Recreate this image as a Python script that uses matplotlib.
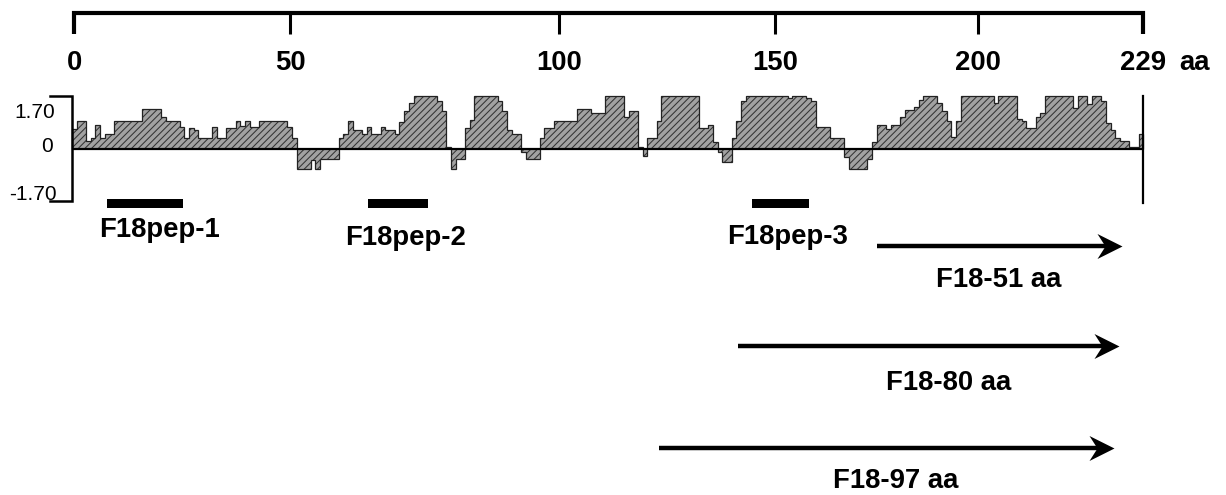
import matplotlib
matplotlib.use("Agg")
import matplotlib.pyplot as plt
from matplotlib.path import Path
import numpy as np

# ---------------- data ----------------
protein_length = 229

# hydrophilicity profile as runs: start residue of each run and its value
seg_start = [0, 1, 3, 4, 5, 6, 7, 9, 15, 19, 20, 23, 24, 25, 26, 27, 30, 31, 33, 35,
             36, 37, 38, 40, 46, 47, 48, 51, 52, 53, 57, 58, 59, 60, 62, 63, 64, 66, 67, 69,
             70, 71, 72, 73, 78, 79, 80, 81, 82, 84, 85, 86, 91, 92, 93, 94, 96, 97, 100, 101,
             103, 108, 111, 114, 118, 119, 121, 122, 123, 125, 126, 134, 136, 137, 138, 139, 141, 142, 143, 144,
             153, 154, 157, 158, 159, 162, 165, 166, 170, 171, 172, 174, 175, 177, 178, 180, 181, 182, 185, 186,
             187, 188, 189, 190, 197, 198, 202, 203, 204, 206, 207, 208, 214, 215, 217, 218, 220, 221, 222, 223,
             224, 226, 228]
seg_value = [0.63, 0.91, 0.24, 0.33, 0.77, 0.33, 0.47, 0.91, 1.28, 1.04, 0.91, 0.71, 0.33, 0.66, 0.60, 0.33, 0.71, 0.33, 0.66, 0.91,
             0.73, 0.91, 0.71, 0.91, 0.71, 0.33, -0.66, -0.38, -0.66, -0.33, 0.33, 0.49, 0.91, 0.60, 0.49, 0.71, 0.49, 0.71, 0.60, 0.49,
             0.88, 1.21, 1.48, 1.70, 1.54, 1.21, 0.05, -0.66, -0.33, 0.66, 0.93, 1.70, 1.54, 1.21, 0.60, 0.46, -0.11, -0.33, 0.33, 0.66,
             0.91, 1.28, 1.15, 1.70, 1.04, 1.21, 0.05, -0.25, 0.33, 0.91, 1.70, 0.66, 0.77, 0.22, -0.11, -0.44, 0.33, 0.91, 1.54, 1.70,
             1.65, 1.70, 1.65, 1.54, 0.71, 0.33, -0.27, -0.66, -0.33, 0.22, 0.77, 0.63, 0.77, 1.04, 1.26, 1.35, 1.57, 1.70, 1.48, 1.21,
             0.91, 0.38, 0.90, 1.70, 1.48, 1.70, 0.95, 0.91, 0.66, 1.04, 1.15, 1.70, 1.32, 1.70, 1.46, 1.70, 1.54, 0.82, 0.62, 0.33,
             0.24, 0.05, 0.49]

scale_labels = ["1.70", "0", "-1.70"]
scale_values = [1.70, 0.0, -1.70]

ruler_labels = ["0", "50", "100", "150", "200", "229"]
ruler_pos = [0.5, 46.7, 104.1, 150.3, 193.7, 229.0]

peptides = ["F18pep-1", "F18pep-2", "F18pep-3"]
pep_start = [7.4, 63.2, 145.3]
pep_end = [23.8, 76.2, 157.5]

fragments = ["F18-51 aa", "F18-80 aa", "F18-97 aa"]
frag_start = [172.0, 142.4, 125.5]
frag_end = [224.4, 223.7, 222.7]

# ---------------- layout (pixel geometry of the figure) ----------------
W, H = 1226, 495
X0 = 72.0                      # pixel x of residue 0
PPR = (1143.3 - X0) / protein_length   # pixels per residue
Y0 = 148.5                     # pixel y of hydrophilicity 0
PPU = 30.6                     # pixels per hydrophilicity unit


def xr(px):
    return (px - X0) / PPR


def yv(py):
    return (Y0 - py) / PPU


plt.rcParams["hatch.linewidth"] = 0.75
BOLD = dict(family=["Liberation Sans", "DejaVu Sans"], fontweight="bold", fontsize=19.8, color="black")
REG = dict(family=["Liberation Sans", "DejaVu Sans"], fontsize=15, color="black")

fig = plt.figure(figsize=(W / 100, H / 100), dpi=100)
ax = fig.add_axes([0, 0, 1, 1])
ax.set_xlim(xr(0), xr(W))
ax.set_ylim(yv(H), yv(0))
ax.axis("off")

# ---- top ruler ----
ry_top, ry_bot = yv(12.5), yv(34)
ax.plot([ruler_pos[0], ruler_pos[0], ruler_pos[-1], ruler_pos[-1]],
        [ry_bot, ry_top, ry_top, ry_bot], color="black", lw=3.0,
        solid_joinstyle="miter", solid_capstyle="butt")
for p in ruler_pos[1:-1]:
    ax.plot([p, p], [ry_top, ry_bot], color="black", lw=2.2, solid_capstyle="butt")
for p, lab in zip(ruler_pos, ruler_labels):
    ax.text(p, yv(70), lab, ha="center", va="baseline", **BOLD)
ax.text(xr(1179), yv(70), "aa", ha="left", va="baseline", **BOLD)

# ---- hydrophilicity profile ----
edges = seg_start + [protein_length]
ax.stairs(seg_value, edges, baseline=0, fill=True, facecolor="#a2a2a2",
          edgecolor="#343434", hatch="/////", linewidth=0)
ax.stairs(seg_value, edges, baseline=0, fill=False, color="#222222", lw=0.9)
ax.plot([0, protein_length], [0, 0], color="black", lw=1.6, solid_capstyle="butt")
ax.plot([protein_length, protein_length], [yv(96), yv(203)], color="black", lw=1.6)

# ---- left scale bracket ----
bx = xr(50)
ax.plot([bx, 0, 0, bx], [scale_values[0], scale_values[0], scale_values[-1], scale_values[-1]],
        color="black", lw=1.8, solid_joinstyle="miter")
lab_x = [xr(55), xr(53), xr(57)]
lab_y = [yv(117.5), yv(152.5), yv(199.5)]
for x, y, lab in zip(lab_x, lab_y, scale_labels):
    ax.text(x, y, lab, ha="right", va="baseline", **REG)

# ---- peptide bars ----
bar_y = yv(203.5)
ax.barh([bar_y] * len(peptides), np.subtract(pep_end, pep_start), left=pep_start,
        height=9 / PPU, color="black")
pep_lab_x = [xr(159.5), xr(406), xr(788)]
pep_lab_y = [yv(237), yv(245), yv(244)]
for x, y, lab in zip(pep_lab_x, pep_lab_y, peptides):
    ax.text(x, y, lab, ha="center", va="baseline", **BOLD)

# ---- fragment arrows ----
head = Path([(0, 0), (-1, 0.5), (-0.68, 0), (-1, -0.5), (0, 0)],
            [Path.MOVETO, Path.LINETO, Path.LINETO, Path.LINETO, Path.CLOSEPOLY])
arrow_y = [yv(245.7), yv(345.7), yv(448.3)]
for s, e, y in zip(frag_start, frag_end, arrow_y):
    ax.plot([s, e - 3], [y, y], color="black", lw=3.2, solid_capstyle="butt")
    ax.plot([e], [y], marker=head, markersize=36, color="black", markeredgewidth=0)
frag_lab_x = [xr(998.7), xr(949), xr(895.5)]
frag_lab_y = [yv(287), yv(390), yv(488)]
for x, y, lab in zip(frag_lab_x, frag_lab_y, fragments):
    ax.text(x, y, lab, ha="center", va="baseline", **BOLD)

fig.savefig("out.png", dpi=100, facecolor="white")
